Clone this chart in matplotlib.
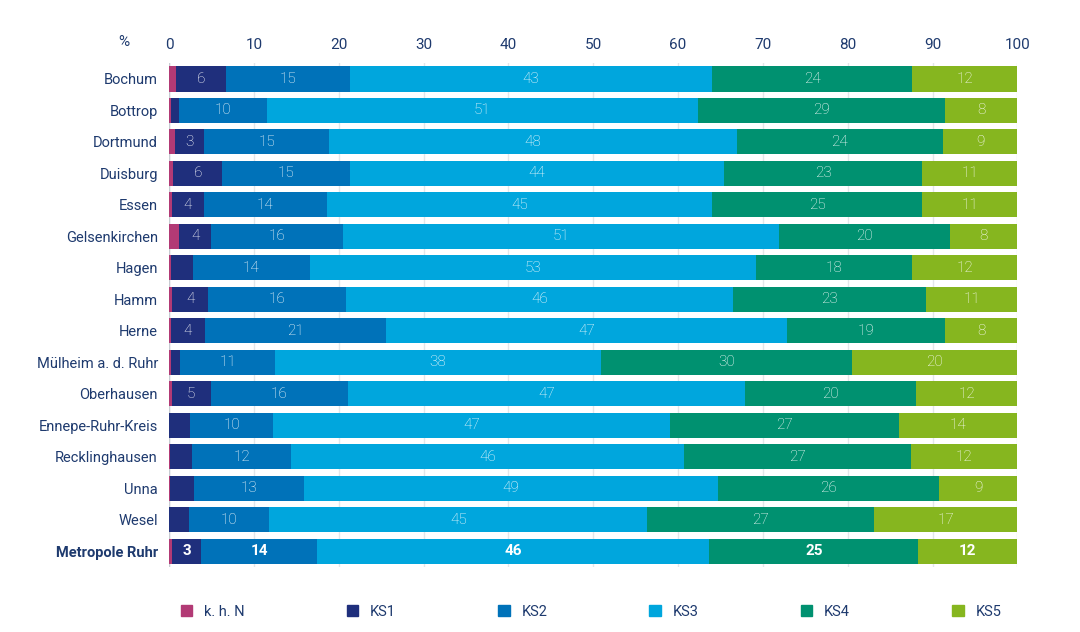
import matplotlib.pyplot as plt
import numpy as np

regions = ["Bochum", "Bottrop", "Dortmund", "Duisburg", "Essen", "Gelsenkirchen",
           "Hagen", "Hamm", "Herne", "Mülheim a. d. Ruhr", "Oberhausen",
           "Ennepe-Ruhr-Kreis", "Recklinghausen", "Unna", "Wesel", "Metropole Ruhr"]
khn = [0.8, 0.2, 0.7, 0.5, 0.3, 1.2, 0.2, 0.4, 0.2, 0.2, 0.3, 0.0, 0.1, 0.1, 0.0, 0.4]
ks1 = [5.9, 1.0, 3.4, 5.8, 3.8, 3.8, 2.6, 4.2, 4.0, 1.1, 4.6, 2.5, 2.6, 2.8, 2.3, 3.4]
ks2 = [14.6, 10.4, 14.8, 15.0, 14.5, 15.5, 13.8, 16.3, 21.4, 11.2, 16.2, 9.8, 11.7, 13.0, 9.5, 13.6]
ks3 = [42.7, 50.7, 48.0, 44.1, 45.4, 51.4, 52.6, 45.6, 47.3, 38.4, 46.8, 46.8, 46.3, 48.8, 44.6, 46.3]
ks4 = [23.6, 29.2, 24.3, 23.4, 24.8, 20.2, 18.4, 22.7, 18.6, 29.6, 20.2, 27.0, 26.8, 26.1, 26.7, 24.6]
ks5 = [12.4, 8.5, 8.8, 11.2, 11.2, 7.9, 12.4, 10.8, 8.5, 19.5, 11.9, 13.9, 12.5, 9.2, 16.9, 11.7]
series = ["k. h. N", "KS1", "KS2", "KS3", "KS4", "KS5"]
colors = ["#b23a75", "#1f2f7c", "#0072b9", "#00a6dd", "#009170", "#86b61f"]
ticks = [0, 10, 20, 30, 40, 50, 60, 70, 80, 90, 100]

plt.rcParams['font.family'] = ['Roboto', 'DejaVu Sans']
txt = "#1e3a6e"

fig = plt.figure(figsize=(10.8, 6.32), dpi=100)
ax = fig.add_axes([0.1565, 0.103, 0.7855, 0.797])
y = np.arange(len(regions))
left = np.zeros(len(regions))
data = [khn, ks1, ks2, ks3, ks4, ks5]
for i, vals in enumerate(data):
    vals = np.array(vals)
    ax.barh(y, vals, left=left, height=0.8, color=colors[i], label=series[i], zorder=3)
    if i > 0:
        for j, v in enumerate(vals):
            if v >= 3:
                bold = j == len(regions) - 1
                ax.text(left[j] + v / 2, j, str(int(round(v))), ha="center", va="center",
                        color="white", fontsize=11, fontweight="bold" if bold else "light", zorder=4)
    left += vals

ax.set_xlim(0, 100)
ax.set_ylim(len(regions) - 0.5, -0.5)
ax.set_yticks(y)
ax.set_yticklabels(regions, color=txt, fontsize=10.5)
ax.get_yticklabels()[-1].set_fontweight("bold")
ax.xaxis.tick_top()
ax.set_xticks(ticks)
ax.set_xticklabels([str(t) for t in ticks], color=txt, fontsize=11)
ax.tick_params(length=0, pad=8)
ax.grid(axis="x", color="#e3e6ea", lw=1, zorder=0)
for s in ax.spines.values():
    s.set_visible(False)
ax.axvline(0, color="#c8ccd2", lw=1, zorder=2)
fig.text(0.115, 0.933, "%", color=txt, fontsize=11, ha="center", va="center")

handles = [plt.Rectangle((0, 0), 1, 1, color=c) for c in colors]
fig.legend(handles, series, loc="lower left", bbox_to_anchor=(0.155, 0.0), ncol=6,
           frameon=False, fontsize=10.5, labelcolor=txt, handlelength=0.8, handleheight=0.8,
           columnspacing=7.0, handletextpad=0.8)

fig.savefig("out.png", dpi=100)
